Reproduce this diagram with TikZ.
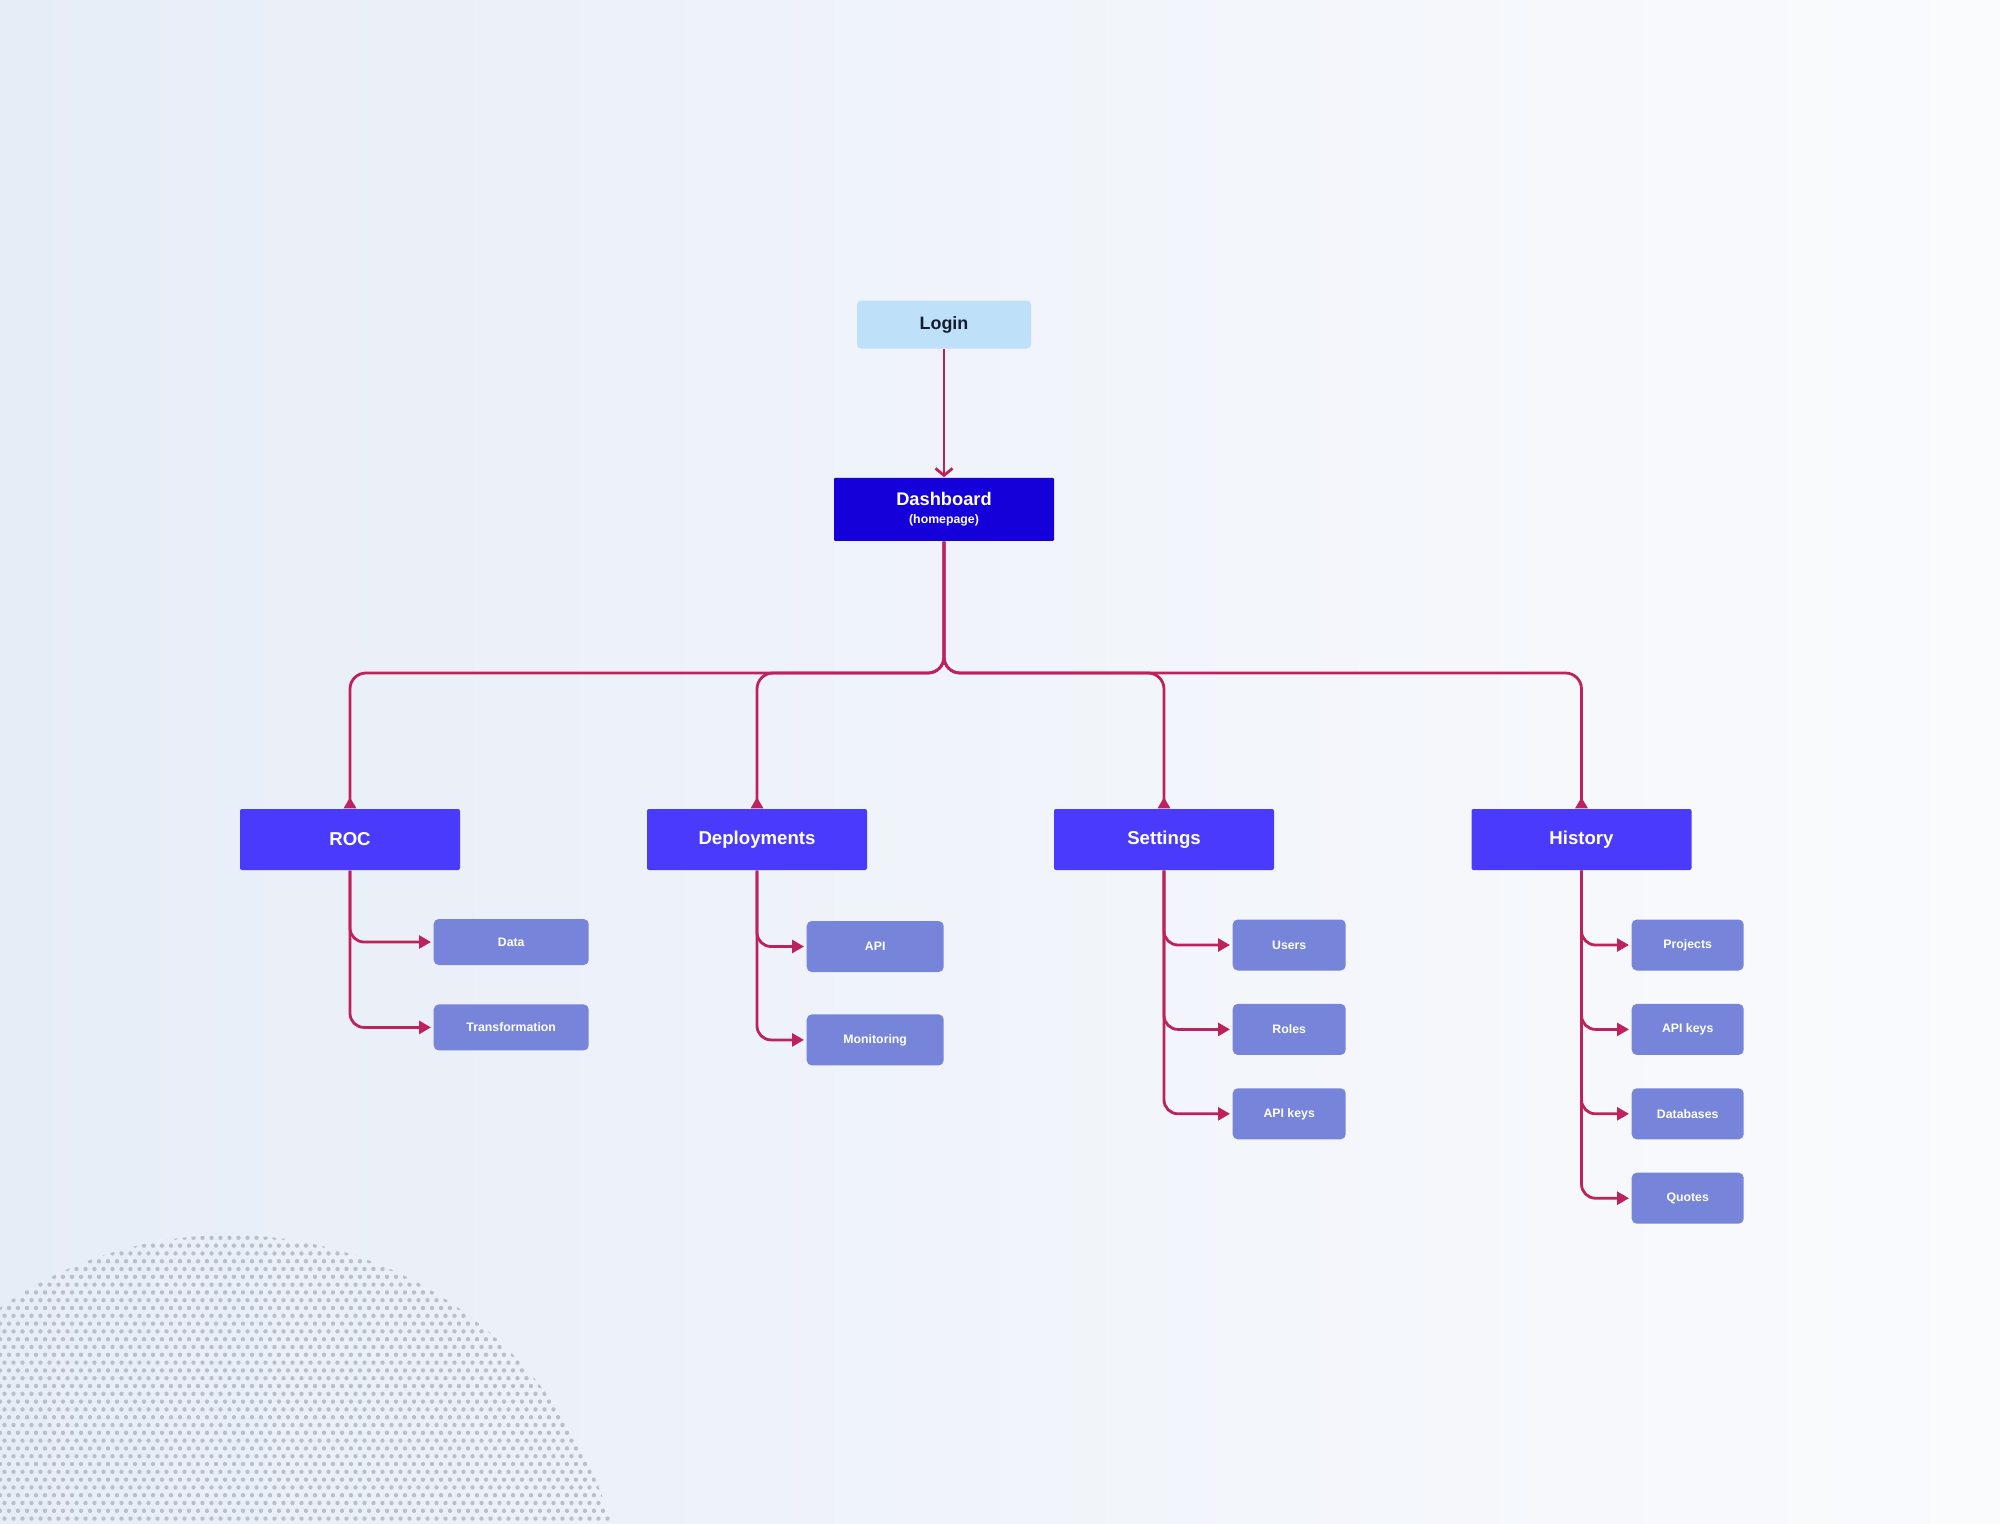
\documentclass[tikz,border=0pt]{standalone}
\usepackage{fontspec}
\setmainfont{Liberation Sans}
\usepackage{tikz}
\usetikzlibrary{arrows.meta,positioning,calc}
\definecolor{loginblue}{RGB}{190,225,249}
\definecolor{inkdark}{RGB}{22,28,45}
\definecolor{homeblue}{RGB}{22,0,218}
\definecolor{secblue}{RGB}{74,58,252}
\definecolor{subblue}{RGB}{118,133,217}
\definecolor{linkred}{RGB}{190,34,92}
\definecolor{bgleft}{RGB}{231,237,247}
\definecolor{bgright}{RGB}{250,251,253}
\definecolor{dotgrey}{RGB}{186,191,201}

\begin{document}
\begin{tikzpicture}[>=Latex]
\tikzstyle{loginbox}=[rounded corners=0.04cm, fill=loginblue, text=inkdark, minimum width=1.74cm, minimum height=0.48cm, inner sep=0pt, font=\bfseries\fontsize{5.1}{5.6}\selectfont]
\tikzstyle{homebox}=[rounded corners=0.01cm, fill=homeblue, text=white, minimum width=2.2cm, minimum height=0.63cm, inner sep=0pt, align=center, font=\bfseries\fontsize{5.2}{5.7}\selectfont]
\tikzstyle{secbox}=[rounded corners=0.02cm, fill=secblue, text=white, minimum width=2.2cm, minimum height=0.61cm, inner sep=0pt, font=\bfseries\fontsize{5.3}{6}\selectfont]
\tikzstyle{subbox}=[rounded corners=0.05cm, fill=subblue, text=white, minimum height=0.51cm, inner sep=0pt, anchor=west, font=\bfseries\fontsize{3.5}{4}\selectfont]
\tikzstyle{link}=[draw=linkred, line width=0.028cm, rounded corners=0.16cm]
\tikzstyle{uplink}=[link, -{Triangle[reversed, length=0.11cm, width=0.12cm]}]
\tikzstyle{sublink}=[link, rounded corners=0.14cm, -{Triangle[length=0.12cm, width=0.13cm]}, shorten >=0.02cm]
\useasboundingbox (0,0) rectangle (20,-15.24);
\shade[left color=bgleft, right color=bgright] (0,0) rectangle (20,-15.24);
\begin{scope}
\clip (0,0) rectangle (20,-15.24);
\clip (2.29,-16.32) circle (3.97);
\foreach \row in {0,...,38}{
  \foreach \col in {0,...,70}{
    \fill[dotgrey] ({\col*0.09+mod(\row,2)*0.045},{-12.3-\row*0.078}) circle (0.022);
  }
}
\end{scope}
\node[loginbox] (login) at (9.44,-3.245) {Login};
\node[homebox, below=1.28cm of login] (home) {Dashboard\\[-0.6pt]{\fontsize{3.5}{3.8}\selectfont (homepage)}};
\node[secbox] (roc) at (3.50,-8.395) {ROC};
\node[secbox] (deploy) at (7.57,-8.395) {Deployments};
\node[secbox] (settings) at (11.64,-8.395) {Settings};
\node[secbox] (history) at (15.815,-8.395) {History};
\node[subbox, minimum width=1.55cm, minimum height=0.46cm] (data) at (4.33,-9.42) {Data};
\node[subbox, minimum width=1.55cm, minimum height=0.46cm, below=0.38cm of data] (transform) {Transformation};
\node[subbox, minimum width=1.37cm] (api) at (8.06,-9.465) {API};
\node[subbox, minimum width=1.37cm, below=0.41cm of api] (monitor) {Monitoring};
\node[subbox, minimum width=1.13cm] (users) at (12.32,-9.45) {Users};
\node[subbox, minimum width=1.13cm, below=0.32cm of users] (roles) {Roles};
\node[subbox, minimum width=1.13cm, below=0.32cm of roles] (setkeys) {API keys};
\node[subbox, minimum width=1.12cm] (projects) at (16.31,-9.45) {Projects};
\node[subbox, minimum width=1.12cm, below=0.32cm of projects] (histkeys) {API keys};
\node[subbox, minimum width=1.12cm, below=0.32cm of histkeys] (databases) {Databases};
\node[subbox, minimum width=1.12cm, below=0.32cm of databases] (quotes) {Quotes};
\coordinate (bus) at (9.44,-6.73);
\draw[link, -{Straight Barb[length=0.07cm, width=0.17cm]}] (login) -- (home);
\draw[uplink] (home) |- (bus -| roc) -- (roc);
\draw[uplink] (home) |- (bus -| deploy) -- (deploy);
\draw[uplink] (home) |- (bus -| settings) -- (settings);
\draw[uplink] (home) |- (bus -| history) -- (history);
\draw[sublink] (roc) |- (data);
\draw[sublink] (roc) |- (transform);
\draw[sublink] (deploy) |- (api);
\draw[sublink] (deploy) |- (monitor);
\draw[sublink] (settings) |- (users);
\draw[sublink] (settings) |- (roles);
\draw[sublink] (settings) |- (setkeys);
\draw[sublink] (history) |- (projects);
\draw[sublink] (history) |- (histkeys);
\draw[sublink] (history) |- (databases);
\draw[sublink] (history) |- (quotes);
\end{tikzpicture}
\end{document}
